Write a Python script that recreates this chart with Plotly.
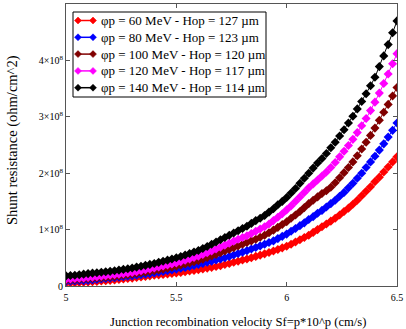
import numpy as np
import plotly.graph_objects as go

# x values: Sf exponent p from 5.00 to 6.50 in 0.02 steps
x = [round(5.0 + 0.02 * i, 2) for i in range(76)]

# Shunt resistance values in units of 1e8 ohm/cm^2
r_60 = [0.05, 0.054, 0.058, 0.062, 0.066,
        0.07, 0.076, 0.082, 0.088, 0.094,
        0.10, 0.108, 0.116, 0.124, 0.132,
        0.14, 0.15, 0.16, 0.17, 0.18,
        0.19, 0.198, 0.206, 0.214, 0.222,
        0.23, 0.241, 0.253, 0.265, 0.277,
        0.29, 0.303, 0.317, 0.331, 0.345,
        0.36, 0.38, 0.40, 0.42, 0.44,
        0.46, 0.48, 0.50, 0.525, 0.547,
        0.57, 0.595, 0.62, 0.648, 0.676,
        0.705, 0.74, 0.78, 0.82, 0.86,
        0.90, 0.95, 1.00, 1.05, 1.10,
        1.15, 1.20, 1.26, 1.32, 1.38,
        1.45, 1.52, 1.60, 1.68, 1.76,
        1.85, 1.93, 2.02, 2.11, 2.20,
        2.29]
r_80 = [0.08, 0.084, 0.088, 0.092, 0.096,
        0.10, 0.108, 0.116, 0.124, 0.132,
        0.14, 0.148, 0.156, 0.164, 0.172,
        0.18, 0.19, 0.20, 0.21, 0.22,
        0.23, 0.243, 0.257, 0.271, 0.285,
        0.30, 0.315, 0.33, 0.346, 0.363,
        0.38, 0.40, 0.42, 0.44, 0.46,
        0.48, 0.50, 0.525, 0.55, 0.575,
        0.60, 0.627, 0.655, 0.683, 0.711,
        0.74, 0.77, 0.80, 0.84, 0.88,
        0.92, 0.97, 1.02, 1.07, 1.12,
        1.18, 1.23, 1.29, 1.34, 1.40,
        1.46, 1.52, 1.59, 1.66, 1.74,
        1.82, 1.91, 2.00, 2.10, 2.20,
        2.30, 2.41, 2.52, 2.64, 2.76,
        2.89]
r_100 = [0.10, 0.106, 0.112, 0.118, 0.124,
         0.13, 0.136, 0.142, 0.148, 0.154,
         0.16, 0.17, 0.18, 0.19, 0.20,
         0.21, 0.222, 0.234, 0.246, 0.258,
         0.27, 0.285, 0.30, 0.316, 0.333,
         0.35, 0.369, 0.389, 0.409, 0.429,
         0.45, 0.477, 0.505, 0.533, 0.561,
         0.59, 0.62, 0.65, 0.68, 0.71,
         0.74, 0.77, 0.80, 0.83, 0.865,
         0.90, 0.945, 0.99, 1.04, 1.09,
         1.14, 1.20, 1.26, 1.32, 1.39,
         1.46, 1.52, 1.58, 1.64, 1.69,
         1.75, 1.83, 1.92, 2.01, 2.10,
         2.20, 2.31, 2.43, 2.55, 2.67,
         2.80, 2.94, 3.08, 3.22, 3.37,
         3.52]
r_120 = [0.12, 0.126, 0.132, 0.138, 0.144,
         0.15, 0.158, 0.166, 0.174, 0.182,
         0.19, 0.20, 0.21, 0.22, 0.23,
         0.24, 0.255, 0.27, 0.287, 0.303,
         0.32, 0.337, 0.355, 0.373, 0.391,
         0.41, 0.433, 0.456, 0.48, 0.505,
         0.53, 0.56, 0.59, 0.62, 0.655,
         0.69, 0.725, 0.76, 0.795, 0.83,
         0.86, 0.89, 0.93, 0.97, 1.01,
         1.05, 1.10, 1.16, 1.22, 1.28,
         1.35, 1.42, 1.50, 1.58, 1.66,
         1.74, 1.81, 1.88, 1.95, 2.02,
         2.10, 2.19, 2.29, 2.39, 2.49,
         2.60, 2.72, 2.84, 2.97, 3.11,
         3.26, 3.42, 3.59, 3.76, 3.94,
         4.12]
r_140 = [0.18, 0.185, 0.19, 0.20, 0.21,
         0.22, 0.228, 0.236, 0.244, 0.252,
         0.26, 0.27, 0.282, 0.294, 0.307,
         0.32, 0.335, 0.35, 0.366, 0.383,
         0.40, 0.419, 0.438, 0.458, 0.479,
         0.50, 0.524, 0.549, 0.575, 0.602,
         0.63, 0.665, 0.70, 0.74, 0.78,
         0.82, 0.86, 0.90, 0.94, 0.98,
         1.02, 1.06, 1.11, 1.16, 1.20,
         1.25, 1.31, 1.37, 1.44, 1.50,
         1.57, 1.65, 1.73, 1.82, 1.91,
         2.00, 2.09, 2.18, 2.26, 2.35,
         2.45, 2.55, 2.66, 2.77, 2.89,
         3.01, 3.14, 3.27, 3.41, 3.55,
         3.70, 3.89, 4.08, 4.28, 4.49,
         4.70]

series_names = ["φp = 60 MeV - Hop = 127 µm",
                "φp = 80 MeV - Hop = 123 µm",
                "φp = 100 MeV - Hop = 120 µm",
                "φp = 120 MeV - Hop = 117 µm",
                "φp = 140 MeV - Hop = 114 µm"]
series_values = [r_60, r_80, r_100, r_120, r_140]
colors = ["#ff0000", "#0000ff", "#800000", "#ff00ff", "#000000"]
scale = 1e8

y_tickvals = [0, 1e8, 2e8, 3e8, 4e8]
y_ticktext = ["0", "1×10<sup>8</sup>", "2×10<sup>8</sup>", "3×10<sup>8</sup>", "4×10<sup>8</sup>"]
x_tickvals = [5, 5.5, 6, 6.5]
x_ticktext = ["5", "5.5", "6", "6.5"]
x_title = "Junction recombination velocity Sf=p*10^p (cm/s)"
y_title = "Shunt resistance (ohm/cm^2)"

# figure geometry (pixels)
W, H = 406, 329
ML, MR, MT, MB = 66, 9, 4, 43
PW, PH = W - ML - MR, H - MT - MB


def px(xp):
    return (xp - ML) / PW


def py(yp):
    return (H - MB - yp) / PH


fig = go.Figure()
for name, vals, c in zip(series_names, series_values, colors):
    fig.add_trace(go.Scatter(
        x=x, y=[v * scale for v in vals], name=name, mode="lines+markers",
        line=dict(color=c, width=1),
        marker=dict(symbol="diamond", size=7, color=c),
        showlegend=False,
    ))

serif = "Liberation Serif, Times New Roman, serif"

# custom legend box (matches the compact legend of the reference)
shapes = [dict(type="rect", xref="paper", yref="paper",
               x0=px(73), x1=px(266), y0=py(97), y1=py(12),
               line=dict(color="black", width=1), fillcolor="white", layer="above")]
annotations = []
for i, (name, c) in enumerate(zip(series_names, colors)):
    yc = 20.5 + 16.8 * i
    shapes.append(dict(type="line", xref="paper", yref="paper",
                       x0=px(76), x1=px(95), y0=py(yc), y1=py(yc),
                       line=dict(color=c, width=1.5), layer="above"))
    for cx in (78, 93):
        d = 3.5
        path = (f"M {px(cx - d)} {py(yc)} L {px(cx)} {py(yc - d)} "
                f"L {px(cx + d)} {py(yc)} L {px(cx)} {py(yc + d)} Z")
        shapes.append(dict(type="path", xref="paper", yref="paper", path=path,
                           fillcolor=c, line=dict(color=c, width=0.5), layer="above"))
    annotations.append(dict(text=name, xref="paper", yref="paper",
                            x=px(99), y=py(yc), xanchor="left", yanchor="middle",
                            showarrow=False,
                            font=dict(family=serif, size=13, color="black")))

annotations.append(dict(text=x_title, xref="paper", yref="paper",
                        x=px(238), y=py(322), xanchor="center", yanchor="middle",
                        showarrow=False, font=dict(family=serif, size=12.6, color="black")))
annotations.append(dict(text=y_title, xref="paper", yref="paper",
                        x=px(12), y=py(140), xanchor="center", yanchor="middle",
                        textangle=-90, showarrow=False,
                        font=dict(family=serif, size=14.5, color="black")))

fig.update_layout(
    width=W, height=H,
    margin=dict(l=ML, r=MR, t=MT, b=MB),
    paper_bgcolor="white", plot_bgcolor="white",
    font=dict(family=serif, color="black"),
    showlegend=False,
    shapes=shapes,
    annotations=annotations,
    xaxis=dict(range=[5, 6.5], tickvals=x_tickvals, ticktext=x_ticktext,
               showline=True, linecolor="#555555", linewidth=1, mirror="ticks",
               ticks="inside", ticklen=4, tickcolor="#555555", showgrid=False, zeroline=False,
               ticklabelstandoff=2,
               tickfont=dict(family=serif, size=10, color="black")),
    yaxis=dict(range=[0, 5e8], tickvals=y_tickvals, ticktext=y_ticktext,
               showline=True, linecolor="#555555", linewidth=1, mirror="ticks",
               ticks="inside", ticklen=4, tickcolor="#555555", showgrid=False, zeroline=False,
               tickfont=dict(family=serif, size=10, color="black")),
)

fig.write_html("out.html", config={"displayModeBar": False},
               post_script="document.body.style.margin='0';")
